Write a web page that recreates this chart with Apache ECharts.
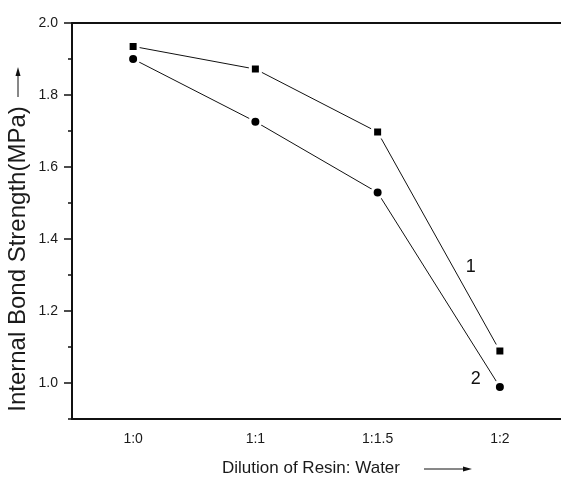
<!DOCTYPE html>
<html style="height: 100%">
   <head>
       <meta charset="utf-8">
   </head>
   <body style="height: 100%; margin: 0; background: #fff">
       <div id="container" style="width: 561px; height: 477px"></div>
       <script type="text/javascript" src="https://cdn.jsdelivr.net/npm/echarts@6/dist/echarts.min.js"></script>
       <script type="text/javascript">
var dilutions = ['1:0', '1:1', '1:1.5', '1:2'];
var curve1 = [1.935, 1.872, 1.697, 1.089];
var curve2 = [1.900, 1.726, 1.529, 0.989];
var majorTicks = [1.0, 1.2, 1.4, 1.6, 1.8, 2.0];
var minorTicks = [0.9, 1.1, 1.3, 1.5, 1.7, 1.9];

var dom = document.getElementById("container");
var myChart = echarts.init(dom);
var font = 'Liberation Sans';
var ink = '#111';

function withEndLabel(values, text, offset) {
    return values.map(function (v, i) {
        if (i < values.length - 1) return v;
        return {
            value: v,
            label: {
                show: true, position: 'inside', formatter: text, offset: offset,
                fontFamily: font, fontSize: 18, color: ink
            }
        };
    });
}

var option = {
    animation: false,
    grid: { left: 72, top: 23, right: 0, bottom: 58 },
    xAxis: [
        {
            type: 'category', data: dilutions, boundaryGap: true,
            axisLine: { lineStyle: { color: ink, width: 2 } },
            axisTick: { length: 4, lineStyle: { color: ink, width: 1.5 } },
            axisLabel: { fontFamily: font, fontSize: 14, color: '#1a1a1a', margin: 13 }
        },
        {
            type: 'category', data: dilutions, position: 'bottom', boundaryGap: true,
            axisLine: { show: false },
            axisTick: { alignWithLabel: true, length: 8, lineStyle: { color: ink, width: 1.5 } },
            axisLabel: { show: false }
        },
        {
            type: 'category', data: dilutions, position: 'top',
            axisLine: { lineStyle: { color: ink, width: 2 } },
            axisTick: { show: false }, axisLabel: { show: false }
        }
    ],
    yAxis: [
        {
            type: 'value', min: 0.9, max: 2.0, interval: 0.1,
            splitLine: { show: false },
            axisLine: { show: true, lineStyle: { color: ink, width: 2 } },
            axisTick: { show: true, length: 8, customValues: majorTicks, lineStyle: { color: ink, width: 1.5 } },
            axisLabel: {
                customValues: majorTicks, margin: 14,
                fontFamily: font, fontSize: 14, color: '#1a1a1a',
                formatter: function (v) { return v.toFixed(1); }
            }
        },
        {
            type: 'value', min: 0.9, max: 2.0, interval: 0.1, position: 'left',
            splitLine: { show: false },
            axisLine: { show: false },
            axisTick: { show: true, length: 4, customValues: minorTicks, lineStyle: { color: ink, width: 1.5 } },
            axisLabel: { show: false }
        }
    ],
    series: [
        {
            name: '1', type: 'line', data: withEndLabel(curve1, '1', [-29, -84]),
            symbol: 'rect', symbolSize: 10,
            lineStyle: { color: ink, width: 1 },
            itemStyle: { color: '#000', borderColor: '#fff', borderWidth: 3 }
        },
        {
            name: '2', type: 'line', data: withEndLabel(curve2, '2', [-24, -8]),
            symbol: 'circle', symbolSize: 11,
            lineStyle: { color: ink, width: 1 },
            itemStyle: { color: '#000', borderColor: '#fff', borderWidth: 3 }
        }
    ],
    graphic: [
        // y axis title with arrow
        {
            type: 'text', x: 18, y: 259, rotation: Math.PI / 2,
            style: {
                text: 'Internal Bond Strength(MPa)', fontFamily: font, fontSize: 24,
                fill: '#1a1a1a', align: 'center', verticalAlign: 'middle'
            }
        },
        { type: 'line', shape: { x1: 18, y1: 97, x2: 18, y2: 75 }, style: { stroke: ink, lineWidth: 1 } },
        { type: 'polygon', shape: { points: [[18, 67], [15.5, 76], [20.5, 76]] }, style: { fill: ink } },
        // x axis title with arrow
        {
            type: 'text', x: 311, y: 468,
            style: {
                text: 'Dilution of Resin: Water', fontFamily: font, fontSize: 17,
                fill: '#1a1a1a', align: 'center', verticalAlign: 'middle'
            }
        },
        { type: 'line', shape: { x1: 424, y1: 469, x2: 464, y2: 469 }, style: { stroke: ink, lineWidth: 1 } },
        { type: 'polygon', shape: { points: [[472, 469], [463, 466.5], [463, 471.5]] }, style: { fill: ink } }
    ]
};
myChart.setOption(option);
       </script>
   </body>
</html>
